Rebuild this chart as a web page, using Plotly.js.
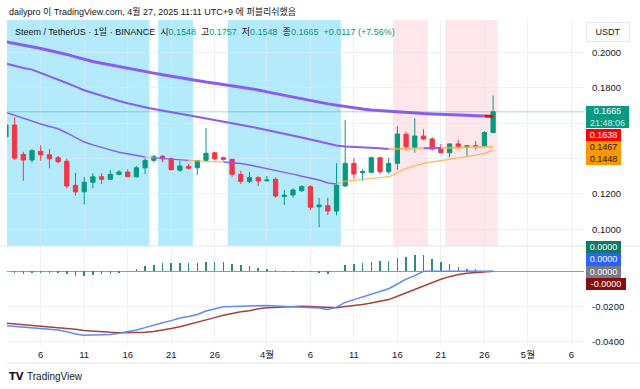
<!DOCTYPE html>
<html>
<head>
<meta charset="utf-8">
<script src="https://cdn.plot.ly/plotly-3.0.1.min.js"></script>
<style>
html,body{margin:0;padding:0;background:#ffffff;}
#chart{width:640px;height:389px;}
</style>
</head>
<body>
<div id="chart"></div>
<script>
// ---------------- DATA ----------------
const dates = [
"2025-03-02","2025-03-03","2025-03-04","2025-03-05","2025-03-06","2025-03-07","2025-03-08","2025-03-09","2025-03-10","2025-03-11",
"2025-03-12","2025-03-13","2025-03-14","2025-03-15","2025-03-16","2025-03-17","2025-03-18","2025-03-19","2025-03-20","2025-03-21",
"2025-03-22","2025-03-23","2025-03-24","2025-03-25","2025-03-26","2025-03-27","2025-03-28","2025-03-29","2025-03-30","2025-03-31",
"2025-04-01","2025-04-02","2025-04-03","2025-04-04","2025-04-05","2025-04-06","2025-04-07","2025-04-08","2025-04-09","2025-04-10",
"2025-04-11","2025-04-12","2025-04-13","2025-04-14","2025-04-15","2025-04-16","2025-04-17","2025-04-18","2025-04-19","2025-04-20",
"2025-04-21","2025-04-22","2025-04-23","2025-04-24","2025-04-25","2025-04-26","2025-04-27"];

const openP = [
0.1524,0.1590,0.1424,0.1392,0.1441,0.1422,0.1405,0.1385,0.1249,0.1212,
0.1266,0.1297,0.1283,0.1311,0.1324,0.1297,0.1348,0.1390,0.1413,0.1399,
0.1334,0.1356,0.1348,0.1390,0.1433,0.1405,0.1396,0.1311,0.1271,0.1292,
0.1275,0.1283,0.1186,0.1194,0.1218,0.1241,0.1127,0.1133,0.1103,0.1245,
0.1373,0.1320,0.1322,0.1405,0.1326,0.1373,0.1538,0.1464,0.1528,0.1511,
0.1454,0.1433,0.1483,0.1467,0.1473,0.1473,0.1548];
const highP = [
0.1602,0.1634,0.1439,0.1453,0.1475,0.1454,0.1415,0.1399,0.1320,0.1296,
0.1317,0.1317,0.1335,0.1335,0.1339,0.1358,0.1402,0.1422,0.1419,0.1405,
0.1388,0.1369,0.1392,0.1572,0.1437,0.1411,0.1398,0.1331,0.1324,0.1301,
0.1301,0.1294,0.1222,0.1232,0.1250,0.1250,0.1178,0.1178,0.1373,0.1619,
0.1402,0.1339,0.1411,0.1411,0.1405,0.1585,0.1551,0.1628,0.1566,0.1521,
0.1483,0.1487,0.1505,0.1477,0.1500,0.1556,0.1757];
const lowP = [
0.1517,0.1392,0.1275,0.1377,0.1388,0.1345,0.1373,0.1232,0.1190,0.1141,
0.1232,0.1256,0.1279,0.1305,0.1294,0.1292,0.1313,0.1379,0.1379,0.1334,
0.1326,0.1339,0.1307,0.1386,0.1390,0.1388,0.1297,0.1256,0.1262,0.1245,
0.1269,0.1178,0.1137,0.1178,0.1212,0.1109,0.1011,0.1080,0.1080,0.1239,
0.1284,0.1275,0.1317,0.1313,0.1313,0.1335,0.1445,0.1433,0.1505,0.1445,
0.1430,0.1407,0.1458,0.1411,0.1453,0.1467,0.1548];
const closeP = [
0.1590,0.1402,0.1392,0.1445,0.1422,0.1399,0.1382,0.1245,0.1211,0.1266,
0.1297,0.1283,0.1311,0.1324,0.1297,0.1348,0.1390,0.1411,0.1399,0.1337,
0.1358,0.1345,0.1388,0.1430,0.1399,0.1396,0.1311,0.1271,0.1292,0.1273,
0.1279,0.1188,0.1192,0.1222,0.1241,0.1124,0.1137,0.1103,0.1249,0.1373,
0.1313,0.1326,0.1405,0.1326,0.1373,0.1539,0.1467,0.1528,0.1511,0.1454,
0.1433,0.1483,0.1467,0.1473,0.1470,0.1548,0.1665];

// moving averages (long, mid, short)
const maLong = [
0.2061,0.2052,0.2044,0.2035,0.2024,0.2012,0.2003,0.1990,0.1976,0.1961,
0.1950,0.1940,0.1930,0.1921,0.1912,0.1902,0.1893,0.1884,0.1875,0.1866,
0.1858,0.1850,0.1841,0.1834,0.1827,0.1820,0.1812,0.1806,0.1797,0.1789,
0.1778,0.1769,0.1759,0.1749,0.1739,0.1729,0.1720,0.1710,0.1702,0.1695,
0.1688,0.1681,0.1675,0.1671,0.1667,0.1664,0.1661,0.1657,0.1655,0.1653,
0.1650,0.1649,0.1647,0.1645,0.1643,0.1641,0.1638];
const maMid = [
0.1938,0.1925,0.1913,0.1904,0.1886,0.1868,0.1849,0.1828,0.1808,0.1787,
0.1772,0.1756,0.1741,0.1726,0.1713,0.1700,0.1691,0.1681,0.1671,0.1662,
0.1654,0.1646,0.1637,0.1629,0.1621,0.1612,0.1604,0.1595,0.1582,0.1572,
0.1562,0.1553,0.1542,0.1531,0.1520,0.1508,0.1497,0.1485,0.1474,0.1469,
0.1467,0.1465,0.1462,0.1459,0.1454,0.1455,0.1457,0.1458,0.1458,0.1459,
0.1460,0.1463,0.1464,0.1465,0.1466,0.1466,0.1467];
const maShort = [
0.1662,0.1645,0.1628,0.1611,0.1596,0.1582,0.1569,0.1545,0.1520,0.1494,
0.1478,0.1462,0.1449,0.1436,0.1426,0.1418,0.1409,0.1404,0.1401,0.1397,
0.1394,0.1390,0.1385,0.1384,0.1383,0.1381,0.1378,0.1372,0.1364,0.1354,
0.1346,0.1335,0.1325,0.1312,0.1300,0.1290,0.1279,0.1262,0.1256,0.1272,
0.1276,0.1284,0.1288,0.1292,0.1297,0.1321,0.1343,0.1359,0.1373,0.1381,
0.1390,0.1398,0.1404,0.1411,0.1418,0.1429,0.1448];

// lower pane indicator
const macdLine = [
-0.0311,-0.0315,-0.0319,-0.0326,-0.0329,-0.0332,-0.0336,-0.0345,-0.0359,-0.0365,
-0.0365,-0.0365,-0.0361,-0.0354,-0.0347,-0.0336,-0.0322,-0.0307,-0.0294,-0.0282,
-0.0267,-0.0259,-0.0247,-0.0227,-0.0213,-0.0203,-0.0201,-0.0199,-0.0197,-0.0196,
-0.0196,-0.0199,-0.0201,-0.0202,-0.0203,-0.0204,-0.0210,-0.0218,-0.0205,-0.0178,
-0.0162,-0.0147,-0.0130,-0.0116,-0.0100,-0.0073,-0.0045,-0.0025,0,0,
0,0,0,0,0,0,0];
const signalLine = [
-0.0297,-0.0302,-0.0306,-0.0313,-0.0316,-0.0319,-0.0323,-0.0326,-0.0332,-0.0338,
-0.0343,-0.0346,-0.0349,-0.0351,-0.0351,-0.0351,-0.0349,-0.0344,-0.0337,-0.0327,
-0.0317,-0.0305,-0.0293,-0.0279,-0.0265,-0.0251,-0.0241,-0.0232,-0.0226,-0.0214,
-0.0208,-0.0205,-0.0202,-0.0199,-0.0200,-0.0202,-0.0203,-0.0206,-0.0208,-0.0202,
-0.0197,-0.0190,-0.0181,-0.0171,-0.0162,-0.0143,-0.0123,-0.0103,-0.0083,-0.0064,
-0.0046,-0.0031,-0.0019,-0.0012,-0.0007,-0.0003,-0.00004];
const histo = [
-0.0012,-0.0011,-0.0017,-0.0011,-0.0011,-0.0010,-0.0011,-0.0017,-0.0025,-0.0027,
-0.0021,-0.0017,-0.0015,-0.0010,0.0003,0.0015,0.0029,0.0038,0.0047,0.0047,
0.0047,0.0047,0.0047,0.0055,0.0055,0.0051,0.0044,0.0036,0.0029,0.0020,
0.0010,0.0006,-0.0004,-0.0004,-0.0004,-0.0004,-0.0010,-0.0015,0.0002,0.0033,
0.0044,0.0047,0.0055,0.0061,0.0061,0.0076,0.0082,0.0090,0.0090,0.0070,
0.0053,0.0042,0.0025,0.0013,0.0010,0.0004,0.00004];
const zeroLevel = 0;

// session shading (first day, last day)
const blueBands = [["2025-03-02","2025-03-18"],["2025-03-20","2025-03-23"],["2025-03-28","2025-04-09"]];
const pinkBands = [["2025-04-16","2025-04-19"],["2025-04-22","2025-04-27"]];

// axis ticks
const xTickVals = ["2025-03-06","2025-03-11","2025-03-16","2025-03-21","2025-03-26","2025-04-01","2025-04-06","2025-04-11","2025-04-16","2025-04-21","2025-04-26","2025-05-01","2025-05-06"];
const xTickText = ["6","11","16","21","26","4월","6","11","16","21","26","5월","6"];
const yTickVals = [0.10,0.12,0.14,0.16,0.18,0.20];
const yTickText = ["0.1000","0.1200","","","0.1800","0.2000"];
const y2TickVals = [0,-0.02,-0.04];
const y2TickText = ["","-0.0200","-0.0400"];

const headerText = "dailypro 이 TradingView.com, 4월 27, 2025 11:11 UTC+9 에 퍼블리쉬했음";
const symbolText = "Steem / TetherUS · 1일 · BINANCE";
const countdownText = "21:48:06";
const currencyText = "USDT";

// ---------------- LAYOUT HELPERS ----------------
const W = 640, H = 389, ML = 7, MR = 56, MT = 20, MB = 43;
const PW = W - ML - MR, PH = H - MT - MB;
const px2x = p => (p - ML) / PW;
const py2y = p => (H - MB - p) / PH;
const splitY = py2y(246);

const UP = "#089981", DOWN = "#F23645", PURPLE = "#8a5cf5", ORANGE = "rgba(255,170,60,0.75)";
const FONT = "Liberation Sans, Arial, Noto Sans CJK KR, sans-serif";

function shiftDate(d, hours) {
  const t = new Date(d + "T00:00:00Z").getTime() + hours * 3600000;
  return new Date(t).toISOString().slice(0, 19).replace("T", " ");
}

// split a line into colour segments: alt colour when close is above the line
function segmentLine(vals, baseColor, altColor, width) {
  const parts = {base: {x: [], y: []}, alt: {x: [], y: []}};
  let prev = null;
  for (let i = 1; i < vals.length; i++) {
    const key = closeP[i] > vals[i] ? "alt" : "base";
    const p = parts[key];
    if (prev === key) {
      p.x.push(dates[i]); p.y.push(vals[i]);
    } else {
      if (p.x.length) { p.x.push(null); p.y.push(null); }
      p.x.push(dates[i - 1], dates[i]); p.y.push(vals[i - 1], vals[i]);
    }
    prev = key;
  }
  return [
    {type: "scatter", mode: "lines", x: parts.base.x, y: parts.base.y, xaxis: "x", yaxis: "y",
     line: {color: baseColor, width: width}, hoverinfo: "skip", connectgaps: false},
    {type: "scatter", mode: "lines", x: parts.alt.x, y: parts.alt.y, xaxis: "x", yaxis: "y",
     line: {color: altColor, width: width}, hoverinfo: "skip", connectgaps: false}
  ];
}

// ---------------- TRACES ----------------
const traces = [];
traces.push(...segmentLine(maLong, PURPLE, "#ff0000", 3));
traces.push(...segmentLine(maMid, PURPLE, ORANGE, 2));
traces.push(...segmentLine(maShort, PURPLE, ORANGE, 1.4));

traces.push({
  type: "candlestick", x: dates, open: openP, high: highP, low: lowP, close: closeP,
  xaxis: "x", yaxis: "y", whiskerwidth: 0, hoverinfo: "skip",
  increasing: {line: {color: UP, width: 1}, fillcolor: UP},
  decreasing: {line: {color: DOWN, width: 1}, fillcolor: DOWN}
});

traces.push({
  type: "bar", x: dates, y: histo, xaxis: "x", yaxis: "y2",
  width: 0.17 * 86400000, marker: {color: "#2f8a78", line: {width: 0}}, hoverinfo: "skip"
});
traces.push({
  type: "scatter", mode: "lines", x: dates, y: signalLine, xaxis: "x", yaxis: "y2",
  line: {color: "#a3413b", width: 1.5}, hoverinfo: "skip"
});
traces.push({
  type: "scatter", mode: "lines", x: dates, y: macdLine, xaxis: "x", yaxis: "y2",
  line: {color: "#5f88f7", width: 1.5}, hoverinfo: "skip"
});

// ---------------- SHAPES ----------------
const shapes = [];
blueBands.forEach(b => shapes.push({
  type: "rect", xref: "x", yref: "paper", x0: shiftDate(b[0], -12), x1: shiftDate(b[1], 12),
  y0: splitY, y1: 1, fillcolor: "#b3ebfc", line: {width: 0}, layer: "below"
}));
pinkBands.forEach(b => shapes.push({
  type: "rect", xref: "x", yref: "paper", x0: shiftDate(b[0], -12), x1: shiftDate(b[1], 12),
  y0: splitY, y1: 1, fillcolor: "#fde7ea", line: {width: 0}, layer: "below"
}));
const lastClose = closeP[closeP.length - 1];
shapes.push({type: "line", xref: "paper", yref: "y", x0: 0, x1: 1, y0: lastClose, y1: lastClose,
  line: {color: "rgba(8,153,129,0.35)", width: 1}});
shapes.push({type: "line", xref: "paper", yref: "paper", x0: px2x(0), x1: px2x(640), y0: splitY, y1: splitY,
  line: {color: "#e0e3eb", width: 1}});
shapes.push({type: "line", xref: "paper", yref: "paper", x0: px2x(7), x1: px2x(640), y0: py2y(363), y1: py2y(363),
  line: {color: "#e0e3eb", width: 1}});

// ---------------- ANNOTATIONS ----------------
const n = closeP.length;
const o = openP[n - 1], h = highP[n - 1], l = lowP[n - 1], c = closeP[n - 1], pc = closeP[n - 2];
const chg = c - pc, pct = chg / pc * 100;
const g = s => `<span style="color:${UP}">${s}</span>`;
const legendLine = `${symbolText}  시${g(o.toFixed(4))}  고${g(h.toFixed(4))}  저${g(l.toFixed(4))}  종${g(c.toFixed(4))}  ${g((chg >= 0 ? "+" : "") + chg.toFixed(4) + " (" + (pct >= 0 ? "+" : "") + pct.toFixed(2) + "%)")}`;

const baseFont = {family: FONT, size: 9, color: "#131722"};
const annotations = [
  {xref: "paper", yref: "paper", x: px2x(7), y: py2y(12), xanchor: "left", yanchor: "middle",
   text: headerText, showarrow: false, font: baseFont},
  {xref: "paper", yref: "paper", x: px2x(13), y: py2y(32), xanchor: "left", yanchor: "middle",
   text: legendLine, showarrow: false, font: baseFont},
  {xref: "paper", yref: "paper", x: px2x(7), y: py2y(376), xanchor: "left", yanchor: "middle",
   text: "<b>TV</b>", showarrow: false, font: {family: "DejaVu Sans", size: 10, color: "#131722"}},
  {xref: "paper", yref: "paper", x: px2x(25), y: py2y(376), xanchor: "left", yanchor: "middle",
   text: "TradingView", showarrow: false, font: {family: FONT, size: 10, color: "#131722"}},
  {xref: "paper", yref: "paper", x: px2x(608), y: py2y(31.7), xanchor: "center", yanchor: "middle",
   text: currencyText, showarrow: false, font: baseFont, bgcolor: "#ffffff", bordercolor: "#e0e3eb",
   borderwidth: 1, width: 40, height: 16}
];

function priceTag(yref, yval, shift, text, bg, fg, w, hgt) {
  return {xref: "paper", yref: yref, x: 1, y: yval, xanchor: "left", yanchor: "top", xshift: 2, yshift: shift,
    text: text, showarrow: false, bgcolor: bg, borderpad: 0, borderwidth: 0, width: w, height: hgt, align: "center",
    font: {family: FONT, size: 9, color: fg}};
}
annotations.push(priceTag("y", lastClose, 6, `${lastClose.toFixed(4)}<br><span style="color:#d4f0ea">${countdownText}</span>`, UP, "#ffffff", 43, 22));
annotations.push(priceTag("y", lastClose, -16.8, maLong[n - 1].toFixed(4), "#ff0000", "#ffffff", 35, 12.2));
annotations.push(priceTag("y", lastClose, -29.2, maMid[n - 1].toFixed(4), "#ff9800", "#131722", 35, 11.7));
annotations.push(priceTag("y", lastClose, -40.9, maShort[n - 1].toFixed(4), "#ff9800", "#131722", 35, 12.3));

annotations.push(priceTag("y2", zeroLevel, 30.5, histo[n - 1].toFixed(4), "#0c7a66", "#ffffff", 35, 12));
annotations.push(priceTag("y2", zeroLevel, 17.9, macdLine[n - 1].toFixed(4), "#2962ff", "#ffffff", 35, 12.7));
annotations.push(priceTag("y2", zeroLevel, 5.2, zeroLevel.toFixed(4), "#787b86", "#ffffff", 35, 12.3));
annotations.push(priceTag("y2", zeroLevel, -7.1, signalLine[n - 1].toFixed(4), "#880e0e", "#ffffff", 40, 12.4));

// ---------------- LAYOUT ----------------
const tickFont = {family: FONT, size: 9.5, color: "#131722"};
const GRID = "rgba(225,230,240,0.55)";
const layout = {
  width: W, height: H,
  margin: {l: ML, r: MR, t: MT, b: MB, pad: 0},
  paper_bgcolor: "#ffffff", plot_bgcolor: "rgba(0,0,0,0)",
  showlegend: false, bargap: 0,
  font: {family: FONT, size: 9.5, color: "#131722"},
  xaxis: {
    type: "date", anchor: "y2", domain: [0, 1],
    range: ["2025-03-02 03:00:00", "2025-05-07 10:48:00"],
    rangeslider: {visible: false},
    tickvals: xTickVals, ticktext: xTickText, tickfont: tickFont,
    showgrid: true, gridcolor: GRID, gridwidth: 1,
    ticks: "", showline: false, zeroline: false, ticklabelstandoff: 1
  },
  yaxis: {
    domain: [splitY, 1], anchor: "x", side: "right",
    range: [0.0905, 0.2185], tickvals: yTickVals, ticktext: yTickText, tickfont: tickFont,
    showgrid: true, gridcolor: GRID, zeroline: false, showline: false, ticks: "",
    ticklabelstandoff: 7
  },
  yaxis2: {
    domain: [0, splitY], anchor: "x", side: "right",
    range: [-0.0427, 0.0144], tickvals: y2TickVals, ticktext: y2TickText, tickfont: tickFont,
    showgrid: true, gridcolor: GRID, zeroline: true, zerolinecolor: "#9598a1", zerolinewidth: 1,
    showline: false, ticks: "", ticklabelstandoff: 7
  },
  shapes: shapes,
  annotations: annotations
};

Plotly.newPlot("chart", traces, layout, {staticPlot: true, displayModeBar: false});
</script>
</body>
</html>
